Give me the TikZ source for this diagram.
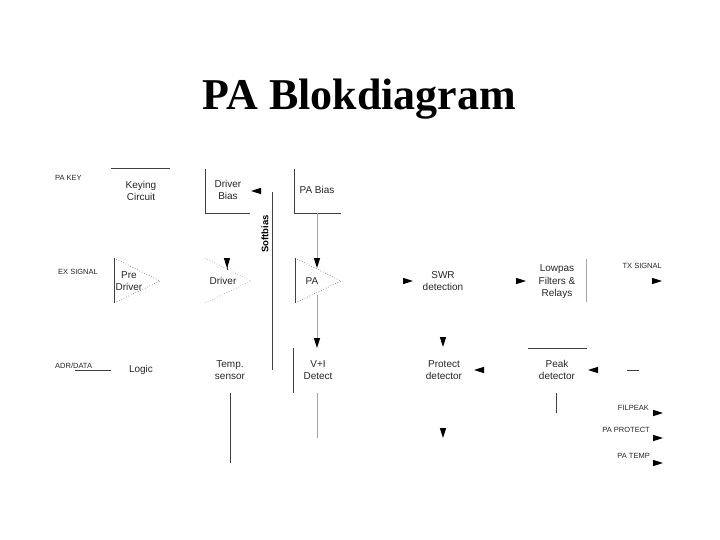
\documentclass[tikz,border=0pt]{standalone}
\usepackage{fontspec}
\setmainfont{Liberation Sans}
\newfontfamily\titlefont{Liberation Serif}
\tikzset{
  x=1pt,y=-1pt,
  lbl/.style={font=\fontsize{10}{12.5}\selectfont,align=center,inner sep=0pt,text=black!85},
  sig/.style={font=\fontsize{7.5}{8}\selectfont,inner sep=0pt,text=black!85},
  dark/.style={draw=black!75,line width=0.8pt},
  pale/.style={draw=black!35,line width=0.8pt},
  dots/.style={draw=black!70,line width=0.6pt,dotted},
  palecdots/.style={draw=black!40,line width=0.6pt,dotted},
  tipshape/.style={fill=black,draw=none}
}
\newcommand{\tipR}[2]{\fill[tipshape] (#1-5,#2-3.2) -- (#1+5,#2) -- (#1-5,#2+3.2) -- cycle;}
\newcommand{\tipL}[2]{\fill[tipshape] (#1+5,#2-3.2) -- (#1-5,#2) -- (#1+5,#2+3.2) -- cycle;}
\newcommand{\tipD}[2]{\fill[tipshape] (#1-3.2,#2-5) -- (#1,#2+5) -- (#1+3.2,#2-5) -- cycle;}
\begin{document}
\begin{tikzpicture}
\useasboundingbox (0,0) rectangle (720,540);
\node[font=\titlefont\bfseries\fontsize{44}{48}\selectfont,inner sep=0pt] (title) at (359.5,99) {PA Blokdiagram};
% labels
\node[sig,anchor=west] (pakey) at (55,178) {PA KEY};
\node[sig,anchor=west] (exsig) at (58,272) {EX SIGNAL};
\node[sig,anchor=west] (adr) at (55,366) {ADR/DATA};
\node[sig,anchor=east] (txsig) at (662,266) {TX SIGNAL};
\node[sig,anchor=east] (filpeak) at (649,408) {FILPEAK};
\node[sig,anchor=east] (paprot) at (650,430) {PA PROTECT};
\node[sig,anchor=east] (patemp) at (650,456) {PA TEMP};
\node[lbl] (keying) at (141,191) {Keying\\Circuit};
\node[lbl] (drvbias) at (228,190) {Driver\\Bias};
\node[lbl] (pabias) at (317,190) {PA Bias};
\node[lbl] (predrv) at (129,281) {Pre\\Driver};
\node[lbl] (drv) at (223,281) {Driver};
\node[lbl] (pa) at (312,281) {PA};
\node[lbl] (swr) at (443,281) {SWR\\detection};
\node[lbl] (lowpas) at (557,282) {Lowpas\\Filters \&\\Relays};
\node[lbl] (logic) at (141,370) {Logic};
\node[lbl] (temp) at (230,370) {Temp.\\sensor};
\node[lbl] (vi) at (318,370) {V+I\\Detect};
\node[lbl] (protect) at (444,370) {Protect\\detector};
\node[lbl] (peak) at (557,370) {Peak\\detector};
\node[font=\bfseries\fontsize{9.5}{11}\selectfont,rotate=90,inner sep=0pt] (softbias) at (265,234) {Softbias};
% lines
\draw[dark] (111,168) -- (170,168);
\draw[dark] (205,169) -- (205,213) -- (250,213);
\draw[dark] (294,169) -- (294,213) -- (341,213);
\draw[dark] (272,192) -- (272,370);
\draw[pale] (317,213) -- (317,262);
\draw[pale] (317,295) -- (317,340);
\draw[dark] (293,348) -- (293,393);
\draw[pale] (317,393) -- (317,438);
\draw[dark] (230,393) -- (230,463);
\draw[dark] (75,370) -- (111,370);
\draw[pale] (586,259) -- (586,302);
\draw[dark] (528,348) -- (587,348);
\draw[dark] (627,370) -- (639,370);
\draw[dark] (556,393) -- (556,413);
\draw[dark] (227,262) -- (227,270);
% triangles
\draw[dots] (114,258) -- (160,281) -- (114,303);
\draw[dark] (114,258) -- (114,303);
\draw[palecdots] (205,258) -- (251,281) -- (205,303);
\draw[dots] (295,258) -- (341,281) -- (295,303);
\draw[dark] (295,258) -- (295,303);
% arrow tips
\tipL{256}{191}
\tipD{227}{263}
\tipD{317}{263}
\tipD{317}{343}
\tipR{408}{281}
\tipR{521}{281}
\tipR{657}{281}
\tipD{443}{342}
\tipL{479}{370}
\tipL{593}{370}
\tipD{443}{433}
\tipR{658}{413}
\tipR{658}{438}
\tipR{658}{463}
\end{tikzpicture}
\end{document}
